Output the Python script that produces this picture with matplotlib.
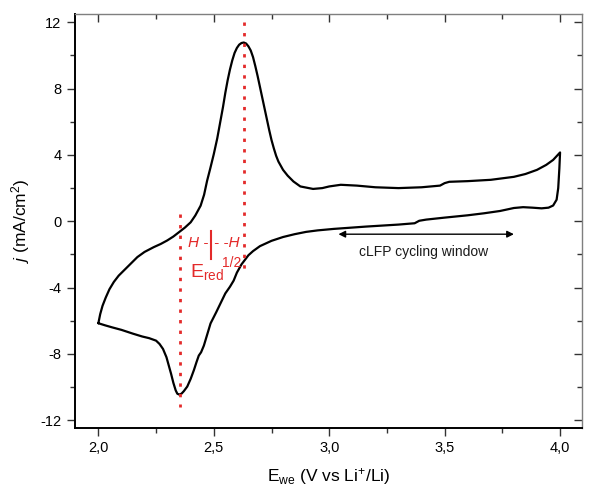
import matplotlib
matplotlib.use("Agg")
import matplotlib.pyplot as plt
from matplotlib.ticker import MultipleLocator, FuncFormatter

plt.rcParams['font.family'] = ['Liberation Sans', 'DejaVu Sans']
plt.rcParams['mathtext.fontset'] = 'custom'
plt.rcParams['mathtext.rm'] = 'Liberation Sans'
plt.rcParams['mathtext.it'] = 'Liberation Sans:italic'

# Anodic (upper) branch, 2.0 -> 4.0 V
v_up = [2.000, 2.008, 2.018, 2.032, 2.048, 2.067, 2.088, 2.111, 2.140, 2.169,
        2.200, 2.240, 2.270, 2.298, 2.325, 2.349, 2.375, 2.400, 2.420, 2.443,
        2.458, 2.471, 2.485, 2.500, 2.515, 2.529, 2.540, 2.550, 2.560, 2.570,
        2.580, 2.590, 2.600, 2.610, 2.620, 2.630, 2.640, 2.650, 2.660, 2.670,
        2.680, 2.690, 2.700, 2.710, 2.720, 2.730, 2.740, 2.750, 2.760, 2.770,
        2.780, 2.800, 2.820, 2.845, 2.875, 2.930, 2.970, 3.000, 3.050, 3.120,
        3.200, 3.300, 3.400, 3.480, 3.500, 3.520, 3.600, 3.700, 3.800, 3.850,
        3.900, 3.940, 3.970, 4.000]
j_up = [-6.15, -5.60, -5.10, -4.60, -4.10, -3.66, -3.28, -2.96, -2.55, -2.16,
        -1.85, -1.56, -1.37, -1.16, -0.92, -0.66, -0.38, -0.06, 0.35, 0.94,
        1.60, 2.44, 3.20, 4.05, 5.00, 6.05, 6.90, 7.75, 8.50, 9.15,
        9.70, 10.15, 10.45, 10.65, 10.75, 10.78, 10.72, 10.55, 10.30, 9.90,
        9.35, 8.75, 8.10, 7.45, 6.80, 6.15, 5.50, 4.90, 4.40, 3.95,
        3.60, 3.10, 2.75, 2.40, 2.10, 1.95, 2.00, 2.10, 2.20, 2.15,
        2.05, 2.00, 2.05, 2.15, 2.30, 2.38, 2.42, 2.50, 2.68, 2.85,
        3.10, 3.40, 3.70, 4.15]

# Cathodic (lower) branch, 4.0 -> 2.0 V
v_dn = [4.000, 3.997, 3.992, 3.985, 3.970, 3.950, 3.920, 3.880, 3.840, 3.800,
        3.740, 3.670, 3.600, 3.500, 3.420, 3.390, 3.370, 3.300, 3.160, 3.020,
        2.950, 2.900, 2.850, 2.800, 2.750, 2.700, 2.670, 2.650, 2.620, 2.600,
        2.586, 2.570, 2.550, 2.529, 2.510, 2.486, 2.470, 2.457, 2.445, 2.435,
        2.425, 2.414, 2.400, 2.385, 2.370, 2.360, 2.350, 2.342, 2.335, 2.325,
        2.315, 2.305, 2.295, 2.280, 2.265, 2.250, 2.220, 2.190, 2.150, 2.100,
        2.060, 2.030, 2.000]
j_dn = [4.15, 3.20, 2.00, 1.30, 0.95, 0.82, 0.78, 0.82, 0.85, 0.80,
        0.62, 0.48, 0.36, 0.22, 0.10, 0.03, -0.12, -0.20, -0.32, -0.46,
        -0.55, -0.64, -0.78, -0.95, -1.18, -1.50, -1.80, -2.05, -2.60, -3.10,
        -3.58, -3.95, -4.35, -4.96, -5.50, -6.16, -6.90, -7.50, -7.90, -8.10,
        -8.50, -8.97, -9.50, -9.97, -10.25, -10.40, -10.45, -10.40, -10.20, -9.75,
        -9.20, -8.70, -8.20, -7.70, -7.40, -7.20, -7.05, -6.95, -6.78, -6.55,
        -6.40, -6.28, -6.15]

x_ticks = [2.0, 2.5, 3.0, 3.5, 4.0]
y_ticks = [-12, -8, -4, 0, 4, 8, 12]

E_ox_peak = 2.63
E_red_peak = 2.352
window = (3.04, 3.80)

red = '#e32a2a'

fig = plt.figure(figsize=(5.89, 4.99), dpi=100)
ax = fig.add_axes([74.7/589, 1 - 427.7/499, (582 - 74.7)/589, (427.7 - 14)/499])

ax.plot(v_up + v_dn, j_up + j_dn, color='black', lw=1.6,
        solid_joinstyle='round', solid_capstyle='round')

# red dotted guide lines
ax.plot([E_ox_peak, E_ox_peak], [12.0, -2.85], color=red, lw=2.0, ls=(0, (1.2, 2.6)))
ax.plot([E_red_peak, E_red_peak], [0.45, -11.2], color=red, lw=2.0, ls=(0, (1.2, 2.6)))

# red annotation
bar_v = 2.489
ax.text(bar_v - 0.012, -1.34, "H -", color=red, fontsize=11, style='italic',
        ha='right', va='center')
ax.text(bar_v + 0.012, -1.34, "- -H", color=red, fontsize=11, style='italic',
        ha='left', va='center')
ax.plot([bar_v, bar_v], [-0.56, -2.3], color=red, lw=1.5)
ax.text(2.396, -3.38, r"E$_{\mathrm{red}}$", color=red, fontsize=14, ha='left', va='baseline')
ax.text(2.537, -2.5, "1/2", color=red, fontsize=10, ha='left', va='center')

# cycling window arrow
ax.annotate('', xy=(window[0], -0.78), xytext=(window[1], -0.78),
            arrowprops=dict(arrowstyle='<|-|>', color='black', lw=1.0,
                            mutation_scale=10, shrinkA=0, shrinkB=0))
ax.text(3.41, -1.86, "cLFP cycling window", fontsize=10, color='#1a1a1a',
        ha='center', va='center')

ax.set_xlim(1.8975, 4.095)
ax.set_ylim(-12.45, 12.5)
ax.set_xticks(x_ticks)
ax.set_yticks(y_ticks)
ax.xaxis.set_minor_locator(MultipleLocator(0.25))
ax.yaxis.set_minor_locator(MultipleLocator(2))
ax.xaxis.set_major_formatter(FuncFormatter(lambda v, p: f"{v:.1f}".replace('.', ',')))
ax.yaxis.set_major_formatter(FuncFormatter(lambda v, p: f"{int(round(v))}"))

ax.tick_params(which='both', direction='out', labelsize=10.5, width=1.0, color='#333333')
ax.tick_params(which='major', length=6)
ax.tick_params(which='minor', length=3.5)
ax.tick_params(axis='x', which='both', top=True)
ax.tick_params(axis='y', which='both', right=True)

for t in ax.xaxis.get_major_ticks() + ax.xaxis.get_minor_ticks():
    t.tick2line.set_marker(3)  # inward on top
for t in ax.yaxis.get_major_ticks() + ax.yaxis.get_minor_ticks():
    t.tick2line.set_marker(0)  # inward on right

for s in ['left', 'bottom']:
    ax.spines[s].set_linewidth(1.4)
    ax.spines[s].set_color('black')
for s in ['top', 'right']:
    ax.spines[s].set_linewidth(1.0)
    ax.spines[s].set_color('#7f7f7f')

ax.set_xlabel(r"E$_{\mathrm{we}}$ (V vs Li$^{+}$/Li)", fontsize=12.5, labelpad=8)
ax.set_ylabel(r"$j$ (mA/cm$^{2}$)", fontsize=12.5, labelpad=6)

fig.savefig('out.png', dpi=100)
